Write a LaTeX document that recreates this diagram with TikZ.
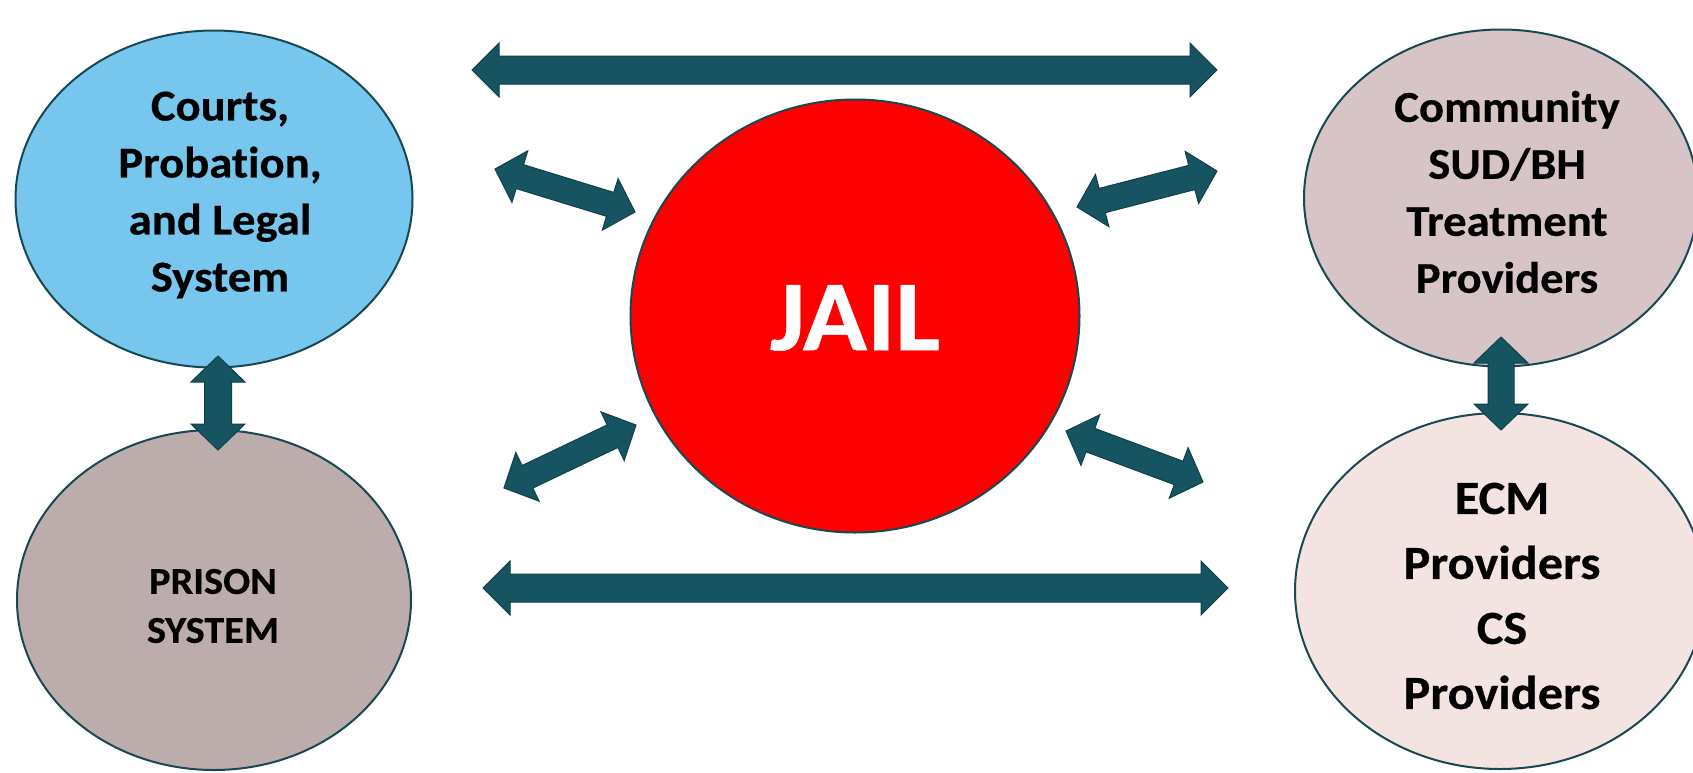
\documentclass[tikz,border=0pt]{standalone}
\usepackage{fontspec}
\newfontfamily\lblfont{Carlito}[FakeStretch=1.06, Ligatures={NoCommon,NoRequired,NoContextual}, BoldFeatures={FakeBold=0.5}]
\usetikzlibrary{shapes.geometric,calc}
\definecolor{teal1}{RGB}{23,84,98}
\definecolor{teal2}{RGB}{14,64,74}
\definecolor{ovl}{RGB}{24,72,82}
\definecolor{courtsblue}{RGB}{118,198,238}
\definecolor{commpink}{RGB}{214,196,198}
\definecolor{prisongray}{RGB}{188,172,172}
\definecolor{ecmpink}{RGB}{244,228,225}
\tikzset{
  oval/.style={ellipse, draw=ovl, line width=2pt, inner sep=0pt},
  arrowstyle/.style={fill=teal1, draw=teal2, line width=1pt, line join=miter},
  lbl/.style={font=\lblfont\bfseries\fontsize{44}{57}\selectfont, align=center, text=black},
}
\newcommand{\dblarr}[5]{%
  \coordinate (h1) at ($(#1)!#5!(#2)$);
  \coordinate (h2) at ($(#2)!#5!(#1)$);
  \draw[arrowstyle] (#1) -- ($(h1)!#4!90:(#2)$) -- ($(h1)!#3!90:(#2)$)
    -- ($(h2)!#3!-90:(#1)$) -- ($(h2)!#4!-90:(#1)$) -- (#2)
    -- ($(h2)!#4!90:(#1)$) -- ($(h2)!#3!90:(#1)$)
    -- ($(h1)!#3!-90:(#2)$) -- ($(h1)!#4!-90:(#2)$) -- cycle;
}
\begin{document}
\begin{tikzpicture}[x=1pt,y=-1pt]
\useasboundingbox (0,0) rectangle (1693,772);
\clip (0,0) rectangle (1693,772);
\fill[white] (0,0) rectangle (1693,772);
% ellipses
\node[oval, fill=courtsblue, minimum width=397pt, minimum height=337pt] (courts) at (214,199) {};
\node[oval, fill=prisongray, minimum width=394pt, minimum height=340pt] (prison) at (214,600) {};
\node[oval, fill=red, minimum width=449pt, minimum height=433pt] (jail) at (855,316) {};
\node[oval, fill=commpink, minimum width=394pt, minimum height=337pt] (comm) at (1501,198) {};
\node[oval, fill=ecmpink, minimum width=410pt, minimum height=356pt] (ecm) at (1500,591) {};
% texts
\node[lbl] (courtsT) at (220,195) {Courts,\\Probation,\\and Legal\\System};
\node[lbl] (commT) at (1507,192) {Community\\SUD/BH\\Treatment\\Providers};
\node[lbl, font=\lblfont\bfseries\fontsize{47.5}{65}\selectfont] (ecmT) at (1502,596) {ECM\\Providers\\CS\\Providers};
\node[lbl, font=\lblfont\bfseries\fontsize{38}{49}\selectfont] (prisonT) at (213,606) {PRISON\\SYSTEM};
\node[font=\lblfont\bfseries\fontsize{100}{110}\selectfont, text=white] (jailT) at (855,318) {JAIL};
% arrow end points
\coordinate (t1) at (472,70);   \coordinate (t2) at (1217,70);
\coordinate (b1) at (483,588);  \coordinate (b2) at (1228,588);
\coordinate (ul1) at (495,169); \coordinate (ul2) at (635,212);
\coordinate (ur1) at (1077,207); \coordinate (ur2) at (1217,171);
\coordinate (ll1) at (504,488); \coordinate (ll2) at (636,425);
\coordinate (lr1) at (1066,431); \coordinate (lr2) at (1203,482);
\coordinate (vl1) at (218,356); \coordinate (vl2) at (218,450);
\coordinate (vr1) at (1501,337); \coordinate (vr2) at (1501,430);
% arrows
\dblarr{t1}{t2}{14pt}{27pt}{27pt}
\dblarr{b1}{b2}{14pt}{27pt}{27pt}
\dblarr{ul1}{ul2}{12.5pt}{27pt}{26pt}
\dblarr{ur1}{ur2}{12.5pt}{27pt}{26pt}
\dblarr{ll1}{ll2}{12.5pt}{27pt}{26pt}
\dblarr{lr1}{lr2}{12.5pt}{27pt}{26pt}
\dblarr{vl1}{vl2}{13.5pt}{27pt}{26pt}
\dblarr{vr1}{vr2}{13pt}{27pt}{26pt}
\end{tikzpicture}
\end{document}
